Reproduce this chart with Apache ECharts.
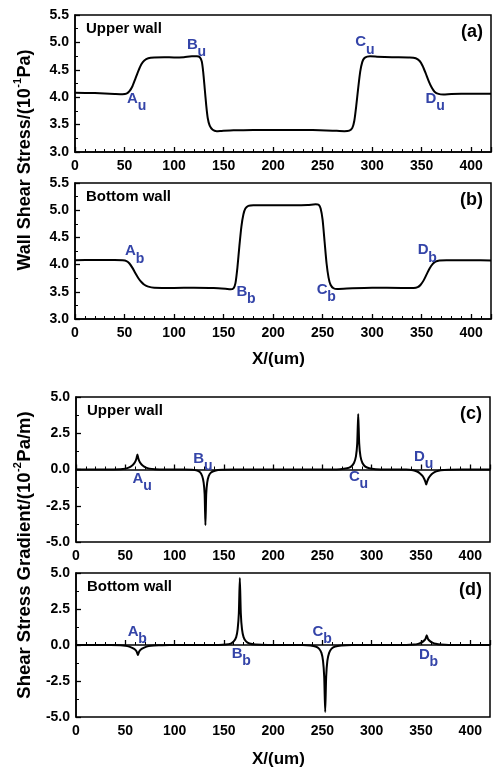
<!DOCTYPE html>
<html>
<head>
<meta charset="utf-8">
<script src="https://cdn.jsdelivr.net/npm/echarts@6/dist/echarts.min.js"></script>
<style>
html,body{margin:0;padding:0;background:#fff;}
#chart{width:501px;height:777px;}
</style>
</head>
<body>
<div id="chart"></div>
<script>
// ---- Data ----
const xTicks = [0, 50, 100, 150, 200, 250, 300, 350, 400];

// (a) upper wall shear stress (10^-1 Pa)
const shearUpper = [
  [0,4.08],[20,4.075],[40,4.06],[48,4.055],[52,4.065],[55,4.11],[58,4.2],[61,4.34],[64,4.48],[67,4.6],[70,4.67],[74,4.71],[80,4.725],
  [90,4.73],[100,4.725],[110,4.73],[118,4.745],[123,4.745],[126,4.73],[128,4.65],[129.5,4.45],[131,4.15],[132.5,3.85],[134,3.62],
  [136,3.48],[139,3.405],[143,3.38],[148,3.385],[160,3.395],[180,3.4],[210,3.4],[240,3.4],[260,3.39],[272,3.38],[277,3.39],
  [280,3.44],[282,3.57],[284,3.85],[286,4.18],[288,4.47],[290,4.64],[292,4.71],[295,4.74],[298,4.745],[305,4.74],[320,4.73],
  [338,4.725],[344,4.71],[348,4.66],[351,4.57],[354,4.44],[357,4.3],[360,4.18],[363,4.1],[367,4.06],[372,4.05],[380,4.06],[400,4.065],[420,4.065]
];

// (b) bottom wall shear stress (10^-1 Pa)
const shearBottom = [
  [0,4.08],[20,4.085],[40,4.085],[48,4.08],[52,4.065],[55,4.02],[58,3.94],[61,3.84],[64,3.75],[67,3.68],[70,3.63],[74,3.595],
  [80,3.575],[100,3.57],[120,3.575],[140,3.57],[152,3.555],[157,3.545],[160,3.565],[162,3.66],[164,3.95],[166,4.35],[168,4.7],
  [170,4.92],[172,5.03],[175,5.08],[180,5.09],[200,5.09],[220,5.09],[235,5.095],[243,5.11],[246,5.1],[248,5.03],[250,4.82],
  [252,4.42],[254,4.02],[256,3.76],[258,3.63],[261,3.565],[265,3.55],[280,3.565],[300,3.575],[330,3.57],[342,3.57],[346,3.585],
  [349,3.63],[352,3.71],[355,3.82],[358,3.93],[361,4.01],[364,4.055],[368,4.075],[375,4.08],[400,4.08],[420,4.075]
];

// (c) upper wall shear stress gradient (10^-2 Pa/m)
const gradUpper = [
  [0,0],[30,0],[45,0.02],[50,0.06],[54,0.15],[57,0.28],[59,0.42],[60.5,0.6],[61.5,0.8],[62.3,1.03],[63.1,0.8],[64.1,0.6],
  [65.6,0.42],[67.6,0.28],[70.5,0.15],[74.5,0.06],[80,0.02],[90,0],[110,0],[118,-0.02],[123,-0.08],[126,-0.2],[128,-0.45],
  [129.5,-0.9],[130.5,-1.7],[131.3,-3.85],[132.1,-1.7],[133.1,-0.9],[134.6,-0.45],[137,-0.2],[141,-0.08],[148,-0.02],[160,0],
  [200,0],[250,0],[268,0.02],[275,0.08],[279,0.2],[282,0.45],[284,0.9],[285.3,1.8],[286.3,3.82],[287.3,1.8],[288.6,0.9],
  [290.6,0.45],[293.5,0.2],[297.5,0.08],[304,0.02],[315,0],[335,0],[342,-0.05],[346,-0.14],[349,-0.27],[351.5,-0.44],
  [353.2,-0.64],[354.4,-0.84],[355.3,-1.04],[356.2,-0.84],[357.5,-0.62],[359.5,-0.42],[362,-0.26],[365.5,-0.13],[370,-0.05],
  [378,-0.01],[390,0],[420,0]
];

// (d) bottom wall shear stress gradient (10^-2 Pa/m)
const gradBottom = [
  [0,0],[35,0],[45,-0.02],[50,-0.05],[54,-0.11],[57,-0.2],[59.5,-0.3],[61.5,-0.45],[62.8,-0.7],[64.1,-0.45],[66.1,-0.3],
  [68.6,-0.2],[71.6,-0.11],[76,-0.05],[84,-0.02],[95,0],[145,0],[152,0.03],[157,0.1],[160,0.25],[162.5,0.55],[164,1.1],
  [165.2,2.2],[166.2,4.65],[167.2,2.2],[168.4,1.1],[170,0.55],[172.5,0.25],[176,0.1],[182,0.03],[195,0],[230,0],[238,-0.03],
  [243,-0.1],[246.5,-0.25],[249,-0.55],[250.6,-1.1],[251.8,-2.2],[252.8,-4.65],[253.8,-2.2],[255,-1.1],[256.8,-0.55],
  [259.3,-0.25],[263,-0.1],[269,-0.03],[280,0],[335,0],[343,0.03],[347,0.08],[350,0.16],[352.5,0.27],[354.5,0.42],
  [355.8,0.68],[357.1,0.42],[359.1,0.27],[361.6,0.16],[365,0.08],[370,0.03],[378,0],[420,0]
];

// point annotations: [x, y, letter, subscript]
const notesA = [[62.5,3.91,'A','u'],[123,4.90,'B','u'],[293,4.94,'C','u'],[364,3.91,'D','u']];
const notesB = [[60.5,4.18,'A','b'],[173,3.44,'B','b'],[254,3.48,'C','b'],[356,4.20,'D','b']];
const notesC = [[67.5,-0.88,'A','u'],[129,0.5,'B','u'],[287,-0.74,'C','u'],[353,0.65,'D','u']];
const notesD = [[62.5,0.7,'A','b'],[168,-0.84,'B','b'],[250,0.7,'C','b'],[358,-0.91,'D','b']];

const panelTags = ['(a)', '(b)', '(c)', '(d)'];
const wallNames = ['Upper wall', 'Bottom wall', 'Upper wall', 'Bottom wall'];

// ---- Chart ----
const FONT = '"Liberation Sans", Arial, Helvetica, sans-serif';
const BLUE = '#3444a8';

const grids = [
  {left: 75, right: 10, top: 15, height: 137},
  {left: 75, right: 10, top: 183, height: 136},
  {left: 76, right: 11, top: 397, height: 145},
  {left: 76, right: 11, top: 573, height: 144}
].map(g => Object.assign(g, {show: true, borderColor: '#000', borderWidth: 1.5, containLabel: false}));

function xAxisFor(i) {
  return {
    type: 'value', gridIndex: i, min: 0, max: 420, interval: 50,
    axisLine: {show: true, lineStyle: {color: '#000', width: 1.5}},
    axisTick: {show: true, inside: true, length: 5, lineStyle: {color: '#000', width: 1.3}},
    minorTick: {show: true, splitNumber: 5, length: 3, lineStyle: {color: '#000', width: 1}},
    splitLine: {show: false},
    axisLabel: {
      color: '#000', fontWeight: 'bold', fontSize: 14, fontFamily: FONT, margin: 7,
      formatter: v => (xTicks.indexOf(v) >= 0 ? String(v) : '')
    }
  };
}
function yAxisFor(i, min, max, interval) {
  return {
    type: 'value', gridIndex: i, min: min, max: max, interval: interval,
    axisLine: {show: true, lineStyle: {color: '#000', width: 1.5}},
    axisTick: {show: true, inside: true, length: 5, lineStyle: {color: '#000', width: 1.3}},
    minorTick: {show: true, splitNumber: 2, length: 3, lineStyle: {color: '#000', width: 1}},
    splitLine: {show: false},
    axisLabel: {
      color: '#000', fontWeight: 'bold', fontSize: 14, fontFamily: FONT, margin: 6,
      formatter: v => v.toFixed(1)
    }
  };
}

function curve(i, data) {
  return {
    type: 'line', xAxisIndex: i, yAxisIndex: i, data: data, showSymbol: false, symbol: 'none',
    smooth: 0.2, lineStyle: {color: '#000', width: 2}, silent: true, animation: false, z: 3
  };
}

const graphics = [];
grids.forEach((g, i) => {
  graphics.push({
    type: 'text', left: g.left + 11, top: g.top + 6, silent: true,
    style: {text: wallNames[i], font: 'bold 15px ' + FONT, fill: '#000'}
  });
  graphics.push({
    type: 'text', right: g.right + 8, top: g.top + 8, silent: true,
    style: {text: panelTags[i], font: 'bold 18px ' + FONT, fill: '#000'}
  });
});
graphics.push({type: 'text', left: 252, top: 351, silent: true, style: {text: 'X/(um)', font: 'bold 17px ' + FONT, fill: '#000'}});
graphics.push({type: 'text', left: 252, top: 751, silent: true, style: {text: 'X/(um)', font: 'bold 17px ' + FONT, fill: '#000'}});

// rotated axis titles with a superscript, built from measured pieces
const measureCtx = document.createElement('canvas').getContext('2d');
function textWidth(str, font) { measureCtx.font = font; return measureCtx.measureText(str).width; }
function yTitle(cx, cy, main, sup, tail, size) {
  const fMain = 'bold ' + size + 'px ' + FONT;
  const fSup = 'bold 11px ' + FONT;
  const wa = textWidth(main, fMain), ws = textWidth(sup, fSup), wt = textWidth(tail, fMain);
  const x0 = -(wa + ws + wt + 1) / 2;
  return {
    type: 'group', x: cx, y: cy, rotation: Math.PI / 2, silent: true,
    children: [
      {type: 'text', x: x0, y: 0, style: {text: main, font: fMain, fill: '#000', align: 'left', verticalAlign: 'middle'}},
      {type: 'text', x: x0 + wa + 0.5, y: -7, style: {text: sup, font: fSup, fill: '#000', align: 'left', verticalAlign: 'middle'}},
      {type: 'text', x: x0 + wa + ws + 1, y: 0, style: {text: tail, font: fMain, fill: '#000', align: 'left', verticalAlign: 'middle'}}
    ]
  };
}
graphics.push(yTitle(25, 160, 'Wall Shear Stress/(10', '-1', 'Pa)', 18));
graphics.push(yTitle(25, 555, 'Shear Stress Gradient/(10', '-2', 'Pa/m)', 18.5));

const chart = echarts.init(document.getElementById('chart'), null, {renderer: 'canvas'});
chart.setOption({
  animation: false,
  backgroundColor: '#fff',
  grid: grids,
  xAxis: [0, 1, 2, 3].map(xAxisFor),
  yAxis: [yAxisFor(0, 3, 5.5, 0.5), yAxisFor(1, 3, 5.5, 0.5), yAxisFor(2, -5, 5, 2.5), yAxisFor(3, -5, 5, 2.5)],
  series: [curve(0, shearUpper), curve(1, shearBottom), curve(2, gradUpper), curve(3, gradBottom)]
});

// annotations placed through each panel's own axes
const noteGraphics = [];
[notesA, notesB, notesC, notesD].forEach((list, i) => {
  list.forEach(n => {
    const p = chart.convertToPixel({xAxisIndex: i, yAxisIndex: i}, [n[0], n[1]]);
    noteGraphics.push({
      type: 'text', x: p[0] - 4.5, y: p[1] - 3.5, silent: true, z: 10,
      style: {text: n[2], font: 'bold 15px ' + FONT, fill: BLUE, align: 'center', verticalAlign: 'middle'}
    });
    noteGraphics.push({
      type: 'text', x: p[0] + 5, y: p[1] + 4, silent: true, z: 10,
      style: {text: n[3], font: 'bold 14px ' + FONT, fill: BLUE, align: 'center', verticalAlign: 'middle'}
    });
  });
});
chart.setOption({graphic: graphics.concat(noteGraphics)});
</script>
</body>
</html>
